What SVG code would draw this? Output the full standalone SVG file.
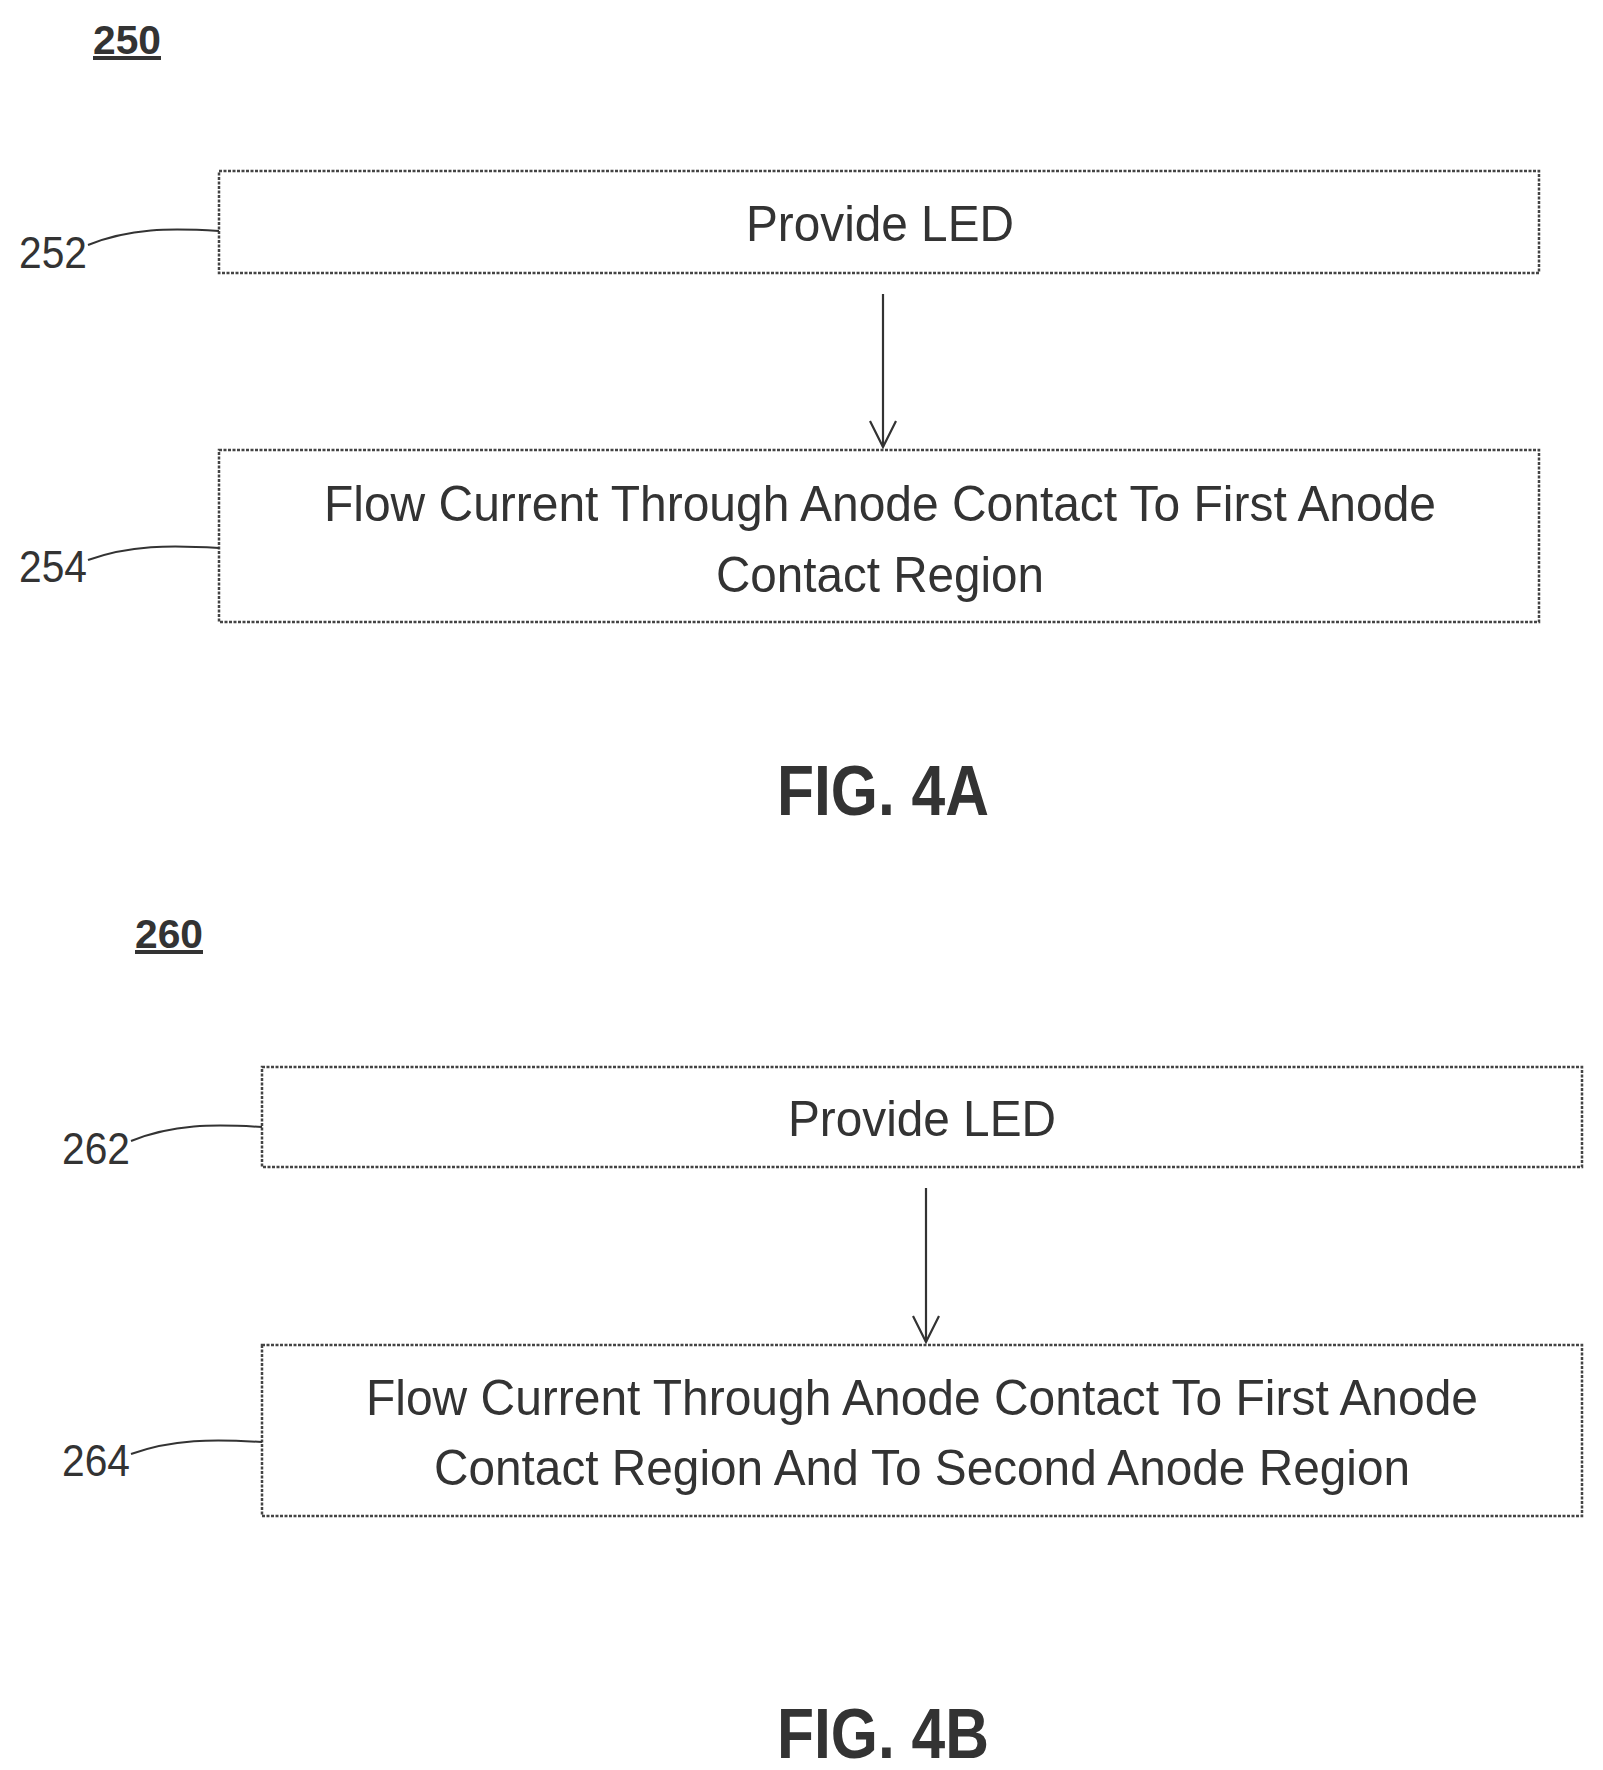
<svg xmlns="http://www.w3.org/2000/svg" width="1603" height="1770" viewBox="0 0 1603 1770">
<defs>
<marker id="ah" markerWidth="30" markerHeight="30" refX="28" refY="15" orient="auto" markerUnits="userSpaceOnUse" viewBox="0 0 30 30"><path d="M2,2 L28,15 L2,28" fill="none" stroke="#333" stroke-width="2.2"/></marker>
</defs>
<style>
.box{fill:#fff;stroke:#444;stroke-width:2.5;stroke-dasharray:3 1.5}
.t{font-family:"Liberation Sans",Arial,sans-serif;font-size:50px;fill:#333;text-anchor:middle}
.lbl{font-family:"Liberation Sans",Arial,sans-serif;font-size:44px;fill:#333;text-anchor:middle}
.ref{font-family:"Liberation Sans",Arial,sans-serif;font-size:40px;font-weight:bold;fill:#333;text-anchor:middle;text-decoration:underline}
.fig{font-family:"Liberation Sans",Arial,sans-serif;font-size:70px;font-weight:bold;fill:#333;text-anchor:middle}
.ld{fill:none;stroke:#333;stroke-width:2}
.cn{stroke:#333;stroke-width:2.2;fill:none}
</style>
<text class="ref" x="127" y="54" textLength="68" lengthAdjust="spacingAndGlyphs">250</text>
<g id="n252"><rect class="box" x="219" y="171" width="1320" height="102"/><text class="t" x="880" y="241" textLength="268" lengthAdjust="spacingAndGlyphs">Provide LED</text></g>
<g id="n254"><rect class="box" x="219" y="450" width="1320" height="172"/><text class="t" x="880" y="521" textLength="1112" lengthAdjust="spacingAndGlyphs">Flow Current Through Anode Contact To First Anode</text><text class="t" x="880" y="592" textLength="328" lengthAdjust="spacingAndGlyphs">Contact Region</text></g>
<text class="lbl" x="53" y="268" textLength="68" lengthAdjust="spacingAndGlyphs">252</text>
<text class="lbl" x="53" y="582" textLength="68" lengthAdjust="spacingAndGlyphs">254</text>
<text class="fig" x="883" y="815" textLength="212" lengthAdjust="spacingAndGlyphs">FIG. 4A</text>
<text class="ref" x="169" y="948" textLength="68" lengthAdjust="spacingAndGlyphs">260</text>
<g id="n262"><rect class="box" x="262" y="1067" width="1320" height="100"/><text class="t" x="922" y="1136" textLength="268" lengthAdjust="spacingAndGlyphs">Provide LED</text></g>
<g id="n264"><rect class="box" x="262" y="1345" width="1320" height="171"/><text class="t" x="922" y="1415" textLength="1112" lengthAdjust="spacingAndGlyphs">Flow Current Through Anode Contact To First Anode</text><text class="t" x="922" y="1485" textLength="976" lengthAdjust="spacingAndGlyphs">Contact Region And To Second Anode Region</text></g>
<text class="lbl" x="96" y="1164" textLength="68" lengthAdjust="spacingAndGlyphs">262</text>
<text class="lbl" x="96" y="1476" textLength="68" lengthAdjust="spacingAndGlyphs">264</text>
<text class="fig" x="883" y="1758" textLength="212" lengthAdjust="spacingAndGlyphs">FIG. 4B</text>
<g id="connectors">
<path class="cn" d="M883,294 L883,447" marker-end="url(#ah)"/>
<path class="cn" d="M926,1188 L926,1342" marker-end="url(#ah)"/>
<path class="ld" d="M88,245 C130,228 170,228 219,231"/>
<path class="ld" d="M88,560 C130,545 170,545 219,548"/>
<path class="ld" d="M131,1141 C173,1124 213,1124 262,1127"/>
<path class="ld" d="M131,1454 C173,1439 213,1439 262,1442"/>
</g>
</svg>
